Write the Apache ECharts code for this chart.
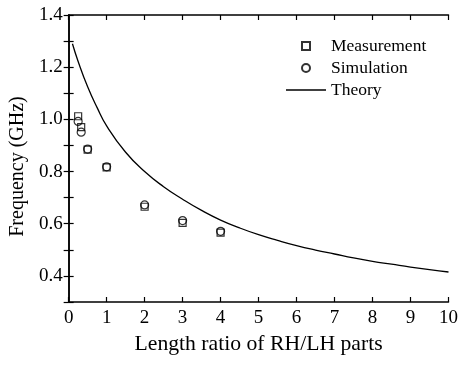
<!DOCTYPE html>
<html>
<head>
<meta charset="utf-8">
<script src="https://cdn.jsdelivr.net/npm/echarts@6/dist/echarts.min.js"></script>
<style>html,body{margin:0;padding:0;background:#fff}#c{width:461px;height:366px}</style>
</head>
<body>
<div id="c"></div>
<script>
var ratio = [0.25, 0.33, 0.5, 1, 2, 3, 4];
var measurement = [1.012, 0.97, 0.884, 0.816, 0.665, 0.603, 0.566];
var simulation = [0.992, 0.951, 0.886, 0.818, 0.672, 0.612, 0.571];
var theoryX = [0.1, 0.25, 0.5, 0.75, 1, 1.5, 2, 2.5, 3, 3.5, 4, 4.5, 5, 5.5, 6, 6.5, 7, 7.5, 8, 8.5, 9, 9.5, 10];
var theoryY = [1.29, 1.222, 1.125, 1.045, 0.975, 0.874, 0.80, 0.742, 0.694, 0.651, 0.614, 0.584, 0.558, 0.536, 0.516, 0.499, 0.484, 0.469, 0.456, 0.445, 0.434, 0.424, 0.415];
var xTicks = [0, 1, 2, 3, 4, 5, 6, 7, 8, 9, 10];
var yLabels = [0.4, 0.6, 0.8, 1.0, 1.2, 1.4];

function pairs(xs, ys) { return xs.map(function (x, i) { return [x, ys[i]]; }); }

var font = 'Liberation Serif';
var squarePath = 'path://M0,0H10V10H0Z';
var chart = echarts.init(document.getElementById('c'), null, {renderer: 'canvas'});
var axisLine = {show: true, lineStyle: {color: '#000', width: 1.5}};
var tick = {show: true, inside: true, length: 5, lineStyle: {color: '#000', width: 1.2}};
chart.setOption({
  animation: false,
  backgroundColor: '#fff',
  textStyle: {fontFamily: font, color: '#000'},
  grid: {left: 68, right: 12, top: 15, bottom: 64, containLabel: false},
  legend: {
    orient: 'vertical', left: 281, top: 32, itemWidth: 40, itemHeight: 8, itemGap: 4,
    symbolKeepAspect: true,
    textStyle: {fontFamily: font, fontSize: 17.5, color: '#000'},
    data: [
      {name: 'Measurement', icon: squarePath},
      {name: 'Simulation', icon: 'circle'},
      {name: 'Theory', icon: 'path://M0,0H40V1.3H0Z', itemStyle: {color: '#000', borderWidth: 0}}
    ]
  },
  xAxis: [{
    type: 'value', min: 0, max: 10, interval: 1, position: 'bottom',
    axisLine: axisLine, axisTick: tick, splitLine: {show: false},
    axisLabel: {fontFamily: font, fontSize: 19, color: '#000', margin: 7,
      formatter: function (v) { return xTicks.indexOf(v) >= 0 ? String(v) : ''; }},
    name: 'Length ratio of RH/LH parts', nameLocation: 'middle', nameGap: 26,
    nameTextStyle: {fontFamily: font, fontSize: 21.7, color: '#000'}
  }, {
    type: 'value', min: 0, max: 10, interval: 1, position: 'top',
    axisLine: axisLine, axisTick: tick, axisLabel: {show: false}, splitLine: {show: false}
  }],
  yAxis: [{
    type: 'value', min: 0.3, max: 1.4, interval: 0.1, position: 'left',
    axisLine: axisLine, axisTick: tick, splitLine: {show: false},
    axisLabel: {fontFamily: font, fontSize: 19, color: '#000', margin: 6,
      formatter: function (v) {
        for (var i = 0; i < yLabels.length; i++) if (Math.abs(yLabels[i] - v) < 1e-6) return yLabels[i].toFixed(1);
        return '';
      }},
    name: 'Frequency (GHz)', nameLocation: 'middle', nameGap: 39,
    nameTextStyle: {fontFamily: font, fontSize: 20, color: '#000', padding: [0, 16, 0, 0]}
  }, {
    type: 'value', min: 0.3, max: 1.4, interval: 0.1, position: 'right',
    axisLine: axisLine, axisTick: tick, axisLabel: {show: false}, splitLine: {show: false}
  }],
  series: [{
    name: 'Theory', type: 'line', data: pairs(theoryX, theoryY), smooth: 0.5,
    showSymbol: false, symbol: 'none',
    lineStyle: {color: '#000', width: 1.3}, itemStyle: {color: '#000'}
  }, {
    name: 'Measurement', type: 'scatter', data: pairs(ratio, measurement), symbol: squarePath, symbolSize: 7,
    symbolKeepAspect: true,
    itemStyle: {color: 'rgba(255,255,255,0)', borderColor: '#000', borderWidth: 1.2}
  }, {
    name: 'Simulation', type: 'scatter', data: pairs(ratio, simulation), symbol: 'circle', symbolSize: 8,
    itemStyle: {color: 'rgba(255,255,255,0)', borderColor: '#000', borderWidth: 1.2}
  }]
});
</script>
</body>
</html>
